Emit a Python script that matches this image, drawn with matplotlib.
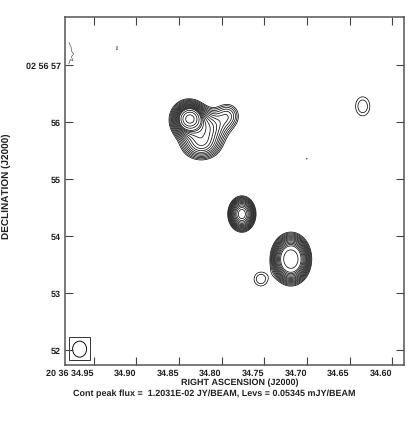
import numpy as np
import matplotlib
matplotlib.use("Agg")
import matplotlib.pyplot as plt
from matplotlib.patches import Rectangle, Ellipse

# Source components: RA seconds, Dec arcsec, peak mJy, widths
ra_c = [34.8372, 34.8385, 34.7930, 34.8240, 34.8200, 34.7763, 34.7189, 34.7541, 34.7002, 34.6347]
dec_c = [56.06, 56.05, 56.12, 55.62, 55.92, 54.39, 53.60, 53.25, 55.36, 56.28]
peak = [8.5, 2.2, 0.36, 0.85, 0.9, 2.5, 4.8, 0.23, 0.17, 0.23]
sig_ra = [0.0058, 0.0098, 0.0090, 0.0125, 0.0150, 0.0070, 0.0093, 0.0085, 0.0007, 0.0090]
sig_dec = [0.085, 0.155, 0.140, 0.150, 0.170, 0.135, 0.180, 0.130, 0.012, 0.180]
levels = [0.15, 0.19, 0.24, 0.30, 0.37, 0.45, 0.55, 0.67, 0.81, 0.98, 1.2, 1.45, 1.75, 2.1, 3.2, 5.0, 8.2]

wiggle_ra = [34.9790, 34.9765, 34.9760, 34.9735, 34.9760, 34.9745, 34.9775, 34.9790]
wiggle_dec = [57.40, 57.32, 57.25, 57.20, 57.15, 57.08, 57.10, 57.03]
speck_ra = [34.9233, 34.9222, 34.9222, 34.9233, 34.9233]
speck_dec = [57.29, 57.29, 57.33, 57.33, 57.29]

x_ticks = [34.95, 34.90, 34.85, 34.80, 34.75, 34.70, 34.65, 34.60]
x_labels = ["20 36 34.95", "34.90", "34.85", "34.80", "34.75", "34.70", "34.65", "34.60"]
y_ticks = [52, 53, 54, 55, 56, 57]
y_labels = ["52", "53", "54", "55", "56", "02 56 57"]

W, H = 409, 426
L, R, T, B = 65, 404, 17, 365
plt.rcParams["font.family"] = ["Liberation Sans", "DejaVu Sans"]
plt.rcParams["text.hinting"] = "none"
plt.rcParams["text.hinting_factor"] = 1
fs = 6.75
fig = plt.figure(figsize=(W / 100, H / 100), dpi=100)
ax = fig.add_axes([L / W, 1 - B / H, (R - L) / W, (B - T) / H])
ax.set_xlim(34.9836, 34.5863)
ax.set_ylim(51.742, 57.847)

xx, yy = np.meshgrid(np.linspace(34.5863, 34.9836, 900), np.linspace(51.742, 57.847, 1100))
field = np.zeros_like(xx)
for r0, d0, p, sr, sd in zip(ra_c, dec_c, peak, sig_ra, sig_dec):
    field += p * np.exp(-0.5 * (((xx - r0) / sr) ** 2 + ((yy - d0) / sd) ** 2))
ax.contour(xx, yy, field, levels=levels, colors="#111111", linewidths=0.55)
ax.plot(wiggle_ra, wiggle_dec, color="#555555", lw=0.5)
ax.plot(speck_ra, speck_dec, color="#555555", lw=0.4)

# beam box
ax.add_patch(Rectangle((34.9788, 51.83), -0.0246, 0.405, fill=False, ec="#333333", lw=0.7))
ax.add_patch(Ellipse((34.9665, 52.02), 0.0164, 0.28, fill=False, ec="#111111", lw=0.7))

ax.set_xticks(x_ticks)
ax.set_xticklabels(x_labels, ha="right", fontsize=fs, fontweight="bold", color="#222222")
ax.set_yticks(y_ticks)
ax.set_yticklabels(y_labels, fontsize=fs, fontweight="bold", color="#222222")
ax.tick_params(direction="in", length=6, width=0.8, top=True, right=True, color="#444444", pad=3)
for s in ax.spines.values():
    s.set_linewidth(1.1)
    s.set_color("#555555")

fig.text(240 / W, 1 - 383 / H, "RIGHT ASCENSION (J2000)", ha="center", va="center",
         fontsize=fs, fontweight="bold", color="#222222")
fig.text(214.5 / W, 1 - 393.5 / H, "Cont peak flux =  1.2031E-02 JY/BEAM, Levs = 0.05345 mJY/BEAM",
         ha="center", va="center", fontsize=fs, fontweight="bold", color="#222222")
fig.text(6 / W, 1 - 186 / H, "DECLINATION (J2000)", rotation=90, ha="center", va="center",
         fontsize=6.9, fontweight="bold", color="#222222")
fig.savefig("out.png", dpi=100)
